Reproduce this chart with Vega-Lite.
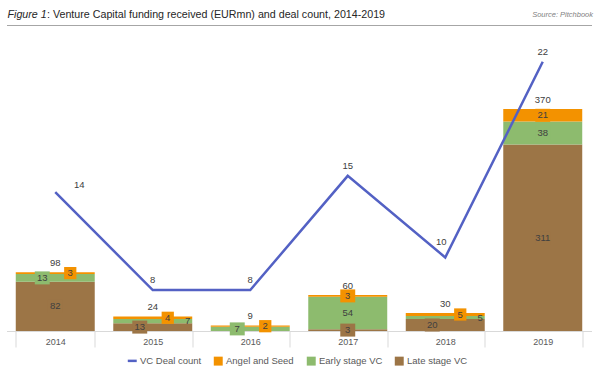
{
  "$schema": "https://vega.github.io/schema/vega-lite/v6.json",
  "width": 585,
  "height": 291,
  "autosize": "none",
  "padding": {"left": 6.5, "top": 40, "right": 8.5, "bottom": 46},
  "background": "white",
  "config": {
    "view": {"stroke": null},
    "font": "Liberation Sans",
    "text": {"font": "Liberation Sans", "fontSize": 9.5, "fill": "#404040"}
  },
  "datasets": {
    "funding": [
      {"Year": "2014", "Series": "Late stage VC", "Value": 82},
      {"Year": "2014", "Series": "Early stage VC", "Value": 13},
      {"Year": "2014", "Series": "Angel and Seed", "Value": 3},
      {"Year": "2015", "Series": "Late stage VC", "Value": 13},
      {"Year": "2015", "Series": "Early stage VC", "Value": 7},
      {"Year": "2015", "Series": "Angel and Seed", "Value": 4},
      {"Year": "2016", "Series": "Early stage VC", "Value": 7},
      {"Year": "2016", "Series": "Angel and Seed", "Value": 2},
      {"Year": "2017", "Series": "Late stage VC", "Value": 3},
      {"Year": "2017", "Series": "Early stage VC", "Value": 54},
      {"Year": "2017", "Series": "Angel and Seed", "Value": 3},
      {"Year": "2018", "Series": "Late stage VC", "Value": 20},
      {"Year": "2018", "Series": "Early stage VC", "Value": 5},
      {"Year": "2018", "Series": "Angel and Seed", "Value": 5},
      {"Year": "2019", "Series": "Late stage VC", "Value": 311},
      {"Year": "2019", "Series": "Early stage VC", "Value": 38},
      {"Year": "2019", "Series": "Angel and Seed", "Value": 21}
    ],
    "deals": [
      {"Year": "2014", "Deals": 14},
      {"Year": "2015", "Deals": 8},
      {"Year": "2016", "Deals": 8},
      {"Year": "2017", "Deals": 15},
      {"Year": "2018", "Deals": 10},
      {"Year": "2019", "Deals": 22}
    ]
  },
  "layer": [
    {
      "data": {"name": "funding"},
      "transform": [
        {"stack": "Value", "groupby": ["Year"], "sort": [{"field": "Series", "order": "descending"}], "as": ["v0", "v1"]}
      ],
      "mark": {"type": "bar"},
      "encoding": {
        "x": {
          "field": "Year", "type": "nominal",
          "scale": {"paddingInner": 0.19, "paddingOuter": 0.095},
          "axis": {
            "orient": "bottom", "title": null, "labelAngle": 0,
            "domainColor": "#d9d9d9", "domainWidth": 1,
            "tickColor": "#d9d9d9", "tickSize": 16, "tickBand": "extent",
            "labelPadding": -10, "labelFontSize": 9, "labelColor": "#595959",
            "labelFont": "Liberation Sans", "grid": false
          }
        },
        "y": {
          "field": "v1", "type": "quantitative",
          "scale": {"domain": [0, 485], "nice": false, "zero": true},
          "axis": {
            "orient": "left", "domain": false, "ticks": false, "labels": false, "grid": false,
            "title": "Figure 1", "titleAngle": 0, "titleAlign": "left", "titleBaseline": "alphabetic",
            "titleX": 0.5, "titleY": -23, "titleFontStyle": "italic", "titleFontWeight": "normal",
            "titleFontSize": 10.7, "titleColor": "#262626", "titleFont": "Liberation Sans"
          }
        },
        "y2": {"field": "v0"},
        "color": {
          "field": "Series", "type": "nominal",
          "scale": {
            "domain": ["VC Deal count", "Angel and Seed", "Early stage VC", "Late stage VC"],
            "range": ["#5361C4", "#F39200", "#8DBB6E", "#9C7546"]
          },
          "legend": {
            "orient": "none", "legendX": 121, "legendY": 316, "direction": "horizontal",
            "title": null, "labelFontSize": 9.5, "labelColor": "#595959", "labelFont": "Liberation Sans",
            "symbolType": {"expr": "datum.value == 'VC Deal count' ? 'stroke' : 'square'"},
            "symbolStrokeColor": {"expr": "scale('color', datum.value)"},
            "symbolStrokeWidth": {"expr": "datum.value == 'VC Deal count' ? 2.5 : 0"},
            "symbolSize": 80, "symbolOpacity": 1, "columnPadding": 12, "labelOffset": 3
          }
        }
      }
    },
    {
      "data": {"name": "funding"},
      "transform": [
        {"stack": "Value", "groupby": ["Year"], "sort": [{"field": "Series", "order": "descending"}], "as": ["v0", "v1"]},
        {"calculate": "(datum.v0 + datum.v1) / 2", "as": "mid"},
        {"filter": "datum.Year == '2017' || datum.Year == '2019' || (datum.Year == '2014' && datum.Series == 'Late stage VC')"}
      ],
      "mark": {"type": "point", "shape": "M-1.15,-1H1.15V1H-1.15Z", "size": 169, "filled": true, "opacity": 1, "strokeWidth": 0},
      "encoding": {
        "x": {"field": "Year", "type": "nominal", "axis": null},
        "y": {"field": "mid", "type": "quantitative", "axis": null, "scale": {"domain": [0, 485], "nice": false, "zero": true}},
        "color": {"field": "Series", "type": "nominal", "legend": null}
      }
    },
    {
      "data": {"name": "funding"},
      "transform": [
        {"stack": "Value", "groupby": ["Year"], "sort": [{"field": "Series", "order": "descending"}], "as": ["v0", "v1"]},
        {"calculate": "(datum.v0 + datum.v1) / 2", "as": "mid"},
        {"filter": "(datum.Series == 'Late stage VC' && (datum.Year == '2015' || datum.Year == '2018')) || (datum.Series == 'Early stage VC' && (datum.Year == '2014' || datum.Year == '2016'))"}
      ],
      "mark": {"type": "point", "shape": "M-1.15,-1H1.15V1H-1.15Z", "size": 169, "filled": true, "opacity": 1, "strokeWidth": 0, "xOffset": -13},
      "encoding": {
        "x": {"field": "Year", "type": "nominal", "axis": null},
        "y": {"field": "mid", "type": "quantitative", "axis": null, "scale": {"domain": [0, 485], "nice": false, "zero": true}},
        "color": {"field": "Series", "type": "nominal", "legend": null}
      }
    },
    {
      "data": {"name": "funding"},
      "transform": [
        {"stack": "Value", "groupby": ["Year"], "sort": [{"field": "Series", "order": "descending"}], "as": ["v0", "v1"]},
        {"calculate": "(datum.v0 + datum.v1) / 2", "as": "mid"},
        {"filter": "datum.Series == 'Angel and Seed' && datum.Year != '2017' && datum.Year != '2019'"}
      ],
      "mark": {"type": "point", "shape": "square", "size": 150, "filled": true, "opacity": 1, "strokeWidth": 0, "xOffset": 15},
      "encoding": {
        "x": {"field": "Year", "type": "nominal", "axis": null},
        "y": {"field": "mid", "type": "quantitative", "axis": null, "scale": {"domain": [0, 485], "nice": false, "zero": true}},
        "color": {"field": "Series", "type": "nominal", "legend": null}
      }
    },
    {
      "data": {"name": "funding"},
      "transform": [
        {"stack": "Value", "groupby": ["Year"], "sort": [{"field": "Series", "order": "descending"}], "as": ["v0", "v1"]},
        {"calculate": "(datum.v0 + datum.v1) / 2", "as": "mid"},
        {"filter": "datum.Year == '2017' || datum.Year == '2019' || (datum.Year == '2014' && datum.Series == 'Late stage VC')"}
      ],
      "mark": {"type": "text", "baseline": "middle"},
      "encoding": {
        "x": {"field": "Year", "type": "nominal", "axis": null},
        "y": {"field": "mid", "type": "quantitative", "axis": null, "scale": {"domain": [0, 485], "nice": false, "zero": true}},
        "text": {"field": "Value", "type": "quantitative"}
      }
    },
    {
      "data": {"name": "funding"},
      "transform": [
        {"stack": "Value", "groupby": ["Year"], "sort": [{"field": "Series", "order": "descending"}], "as": ["v0", "v1"]},
        {"calculate": "(datum.v0 + datum.v1) / 2", "as": "mid"},
        {"filter": "(datum.Series == 'Late stage VC' && (datum.Year == '2015' || datum.Year == '2018')) || (datum.Series == 'Early stage VC' && (datum.Year == '2014' || datum.Year == '2016'))"}
      ],
      "mark": {"type": "text", "baseline": "middle", "dx": -13},
      "encoding": {
        "x": {"field": "Year", "type": "nominal", "axis": null},
        "y": {"field": "mid", "type": "quantitative", "axis": null, "scale": {"domain": [0, 485], "nice": false, "zero": true}},
        "text": {"field": "Value", "type": "quantitative"}
      }
    },
    {
      "data": {"name": "funding"},
      "transform": [
        {"stack": "Value", "groupby": ["Year"], "sort": [{"field": "Series", "order": "descending"}], "as": ["v0", "v1"]},
        {"calculate": "(datum.v0 + datum.v1) / 2", "as": "mid"},
        {"filter": "datum.Series == 'Angel and Seed' && datum.Year != '2017' && datum.Year != '2019'"}
      ],
      "mark": {"type": "text", "baseline": "middle", "dx": 15},
      "encoding": {
        "x": {"field": "Year", "type": "nominal", "axis": null},
        "y": {"field": "mid", "type": "quantitative", "axis": null, "scale": {"domain": [0, 485], "nice": false, "zero": true}},
        "text": {"field": "Value", "type": "quantitative"}
      }
    },
    {
      "data": {"name": "funding"},
      "transform": [
        {"stack": "Value", "groupby": ["Year"], "sort": [{"field": "Series", "order": "descending"}], "as": ["v0", "v1"]},
        {"calculate": "(datum.v0 + datum.v1) / 2", "as": "mid"},
        {"filter": "datum.Series == 'Early stage VC' && (datum.Year == '2015' || datum.Year == '2018')"}
      ],
      "mark": {"type": "text", "baseline": "middle", "dx": 35},
      "encoding": {
        "x": {"field": "Year", "type": "nominal", "axis": null},
        "y": {"field": "mid", "type": "quantitative", "axis": null, "scale": {"domain": [0, 485], "nice": false, "zero": true}},
        "text": {"field": "Value", "type": "quantitative"}
      }
    },
    {
      "data": {"name": "funding"},
      "transform": [{"aggregate": [{"op": "sum", "field": "Value", "as": "Total"}], "groupby": ["Year"]}],
      "mark": {"type": "text", "baseline": "middle", "dy": -9.5},
      "encoding": {
        "x": {"field": "Year", "type": "nominal", "axis": null},
        "y": {"field": "Total", "type": "quantitative", "axis": null, "scale": {"domain": [0, 485], "nice": false, "zero": true}},
        "text": {"field": "Total", "type": "quantitative"}
      }
    },
    {
      "data": {"name": "deals"},
      "mark": {"type": "line", "strokeWidth": 2.5},
      "encoding": {
        "x": {
          "field": "Year", "type": "nominal",
          "axis": {
            "orient": "top", "labels": false, "ticks": false, "grid": false,
            "domain": true, "domainColor": "#a6a6a6", "domainWidth": 1, "offset": 15,
            "title": "Source: Pitchbook", "titleFontStyle": "italic", "titleFontSize": 7.5,
            "titleFont": "Liberation Sans", "titleColor": "#7f7f7f", "titleFontWeight": "normal",
            "titleAlign": "right", "titleBaseline": "alphabetic", "titleX": 586, "titleY": -9
          }
        },
        "y": {
          "field": "Deals", "type": "quantitative",
          "scale": {"domain": [5.49, 23.33], "nice": false, "zero": false},
          "axis": {
            "orient": "right", "domain": false, "ticks": false, "labels": false, "grid": false,
            "title": ": Venture Capital funding received (EURmn) and deal count, 2014-2019",
            "titleAngle": 0, "titleAlign": "left", "titleBaseline": "alphabetic",
            "titleX": -545, "titleY": -23, "titleFontStyle": "normal", "titleFontWeight": "normal",
            "titleFontSize": 10.7, "titleColor": "#262626", "titleFont": "Liberation Sans"
          }
        },
        "color": {"datum": "VC Deal count", "type": "nominal", "legend": null}
      }
    },
    {
      "data": {"name": "deals"},
      "transform": [{"filter": "datum.Year != '2014' && datum.Year != '2018'"}],
      "mark": {"type": "text", "baseline": "middle", "dy": -10},
      "encoding": {
        "x": {"field": "Year", "type": "nominal", "axis": null},
        "y": {"field": "Deals", "type": "quantitative", "axis": null, "scale": {"domain": [5.49, 23.33], "nice": false, "zero": false}},
        "text": {"field": "Deals", "type": "quantitative"}
      }
    },
    {
      "data": {"name": "deals"},
      "transform": [{"filter": "datum.Year == '2014'"}],
      "mark": {"type": "text", "baseline": "middle", "dx": 24, "dy": -7},
      "encoding": {
        "x": {"field": "Year", "type": "nominal", "axis": null},
        "y": {"field": "Deals", "type": "quantitative", "axis": null, "scale": {"domain": [5.49, 23.33], "nice": false, "zero": false}},
        "text": {"field": "Deals", "type": "quantitative"}
      }
    },
    {
      "data": {"name": "deals"},
      "transform": [{"filter": "datum.Year == '2018'"}],
      "mark": {"type": "text", "baseline": "middle", "dx": -4, "dy": -15},
      "encoding": {
        "x": {"field": "Year", "type": "nominal", "axis": null},
        "y": {"field": "Deals", "type": "quantitative", "axis": null, "scale": {"domain": [5.49, 23.33], "nice": false, "zero": false}},
        "text": {"field": "Deals", "type": "quantitative"}
      }
    }
  ],
  "resolve": {"scale": {"y": "independent"}, "axis": {"x": "independent"}}
}
